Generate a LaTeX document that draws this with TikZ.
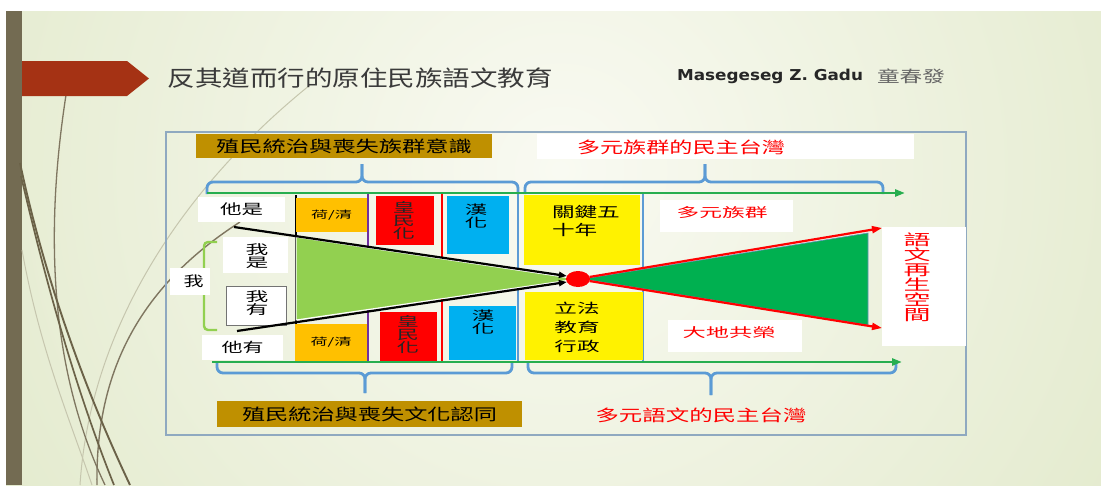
\documentclass[tikz,border=0pt]{standalone}
\usepackage{fontspec}
\usepackage{graphicx}
\usetikzlibrary{arrows.meta,shapes.geometric}
\newfontfamily\cjk{Noto Sans CJK TC}
\newfontfamily\djv{DejaVu Sans}
\newcommand\tw[2]{\resizebox{#1}{\height}{#2}}
\newcommand\hs[2][1.5]{\scalebox{#1}[1]{#2}}
\newcommand\vstk[1]{\vbox{\lineskiplimit=-100pt\relax\lineskip=0pt\relax\let\\\cr\halign{\hfil##\hfil\cr#1\crcr}}}
\newcommand\lstk[1]{\vbox{\lineskiplimit=-100pt\relax\lineskip=0pt\relax\let\\\cr\halign{##\hfil\cr#1\crcr}}}
\definecolor{bgl}{HTML}{F9FAF2}
\definecolor{bgd}{HTML}{D9E3BC}
\definecolor{barc}{HTML}{736B52}
\definecolor{bannerc}{HTML}{A53214}
\definecolor{goldc}{HTML}{BF9000}
\definecolor{framec}{HTML}{8FA9C0}
\definecolor{bracec}{HTML}{5B9BD5}
\definecolor{linegreen}{HTML}{27AE4F}
\definecolor{orangec}{HTML}{FFC000}
\definecolor{purplec}{HTML}{7030A0}
\definecolor{cyanc}{HTML}{00B0F0}
\definecolor{lgreen}{HTML}{92D050}
\definecolor{dgreen}{HTML}{00B050}
\definecolor{titlec}{HTML}{3A3A3A}
\definecolor{decoA}{HTML}{6B6248}
\definecolor{decoB}{HTML}{7F7660}
\definecolor{decoC}{HTML}{C6C6AE}
\tikzset{
  every node/.style={inner sep=0pt, outer sep=0pt},
  cj/.style={font={\cjk\fontsize{#1}{#1}\selectfont}},
  wbox/.style={fill=white},
  goldbox/.style={fill=goldc},
  brace/.style={draw=bracec, line width=2.8pt, rounded corners=6pt},
  gline/.style={draw=linegreen, line width=2.6pt, -{Triangle[length=10pt,width=7pt]}},
  blkarrow/.style={draw=black, line width=2.2pt, -{Triangle[length=8pt,width=6pt]}},
  redarrow/.style={draw=red, line width=2.2pt, -{Triangle[length=10pt,width=7pt]}},
}
\begin{document}
\begin{tikzpicture}[x=1pt,y=-1pt]
\useasboundingbox (0,0) rectangle (1101,485);
\fill[white] (0,0) rectangle (1101,485);
\begin{scope}
\clip (6,11) rectangle (1101,485);
\shade[inner color=bgl, outer color=bgd] (560,170) circle (980pt);
\end{scope}
% left bar
\fill[barc] (6,11) rectangle (22,485);
% decorative curves
\draw[decoC, line width=1pt] (310,85) .. controls (180,190) and (90,330) .. (80,485);
\draw[decoC, line width=1pt] (22,250) .. controls (40,350) and (70,420) .. (92,485);
\draw[decoB, line width=1.3pt] (66,95) .. controls (42,250) and (55,380) .. (105,485);
\draw[decoB, line width=1.4pt] (240,222) .. controls (150,280) and (95,360) .. (97,485);
\draw[decoA, line width=1.9pt] (20,163) .. controls (45,280) and (85,390) .. (130,485);
\draw[decoA, line width=1.7pt] (21,176) .. controls (50,300) and (80,400) .. (114,485);
% banner
\fill[bannerc] (22,61) -- (127,61) -- (149,78.5) -- (127,96) -- (22,96) -- cycle;
% title and author
\node[cj=22, text=titlec] (title) at (360,78) {\tw{385pt}{反其道而行的原住民族語文教育}};
\node[font={\djv\bfseries\fontsize{15}{15}\selectfont}, text=black!85] (author) at (770,76) {\tw{186pt}{Masegeseg Z. Gadu}};
\node[cj=16, text=black!60] (authorcn) at (911,76) {\tw{68pt}{童春發}};
% frame
\draw[framec, line width=2pt] (166,132) rectangle (966,435);
% top labels
\node[goldbox, minimum width=296pt, minimum height=24pt, cj=16] (goldtop) at (344,146) {\tw{256pt}{殖民統治與喪失族群意識}};
\node[wbox, minimum width=377pt, minimum height=25pt] (toprightbox) at (725.5,146.5) {};
\node[cj=16, text=red] (toprighttext) at (681,147) {\tw{208pt}{多元族群的民主台灣}};
% top braces
\draw[brace] (207,194) -- (207,182) -- (362,182) -- (362,164);
\draw[brace] (362,164) -- (362,182) -- (518,182) -- (518,194);
\draw[brace] (525,194) -- (525,182) -- (705,182) -- (705,164);
\draw[brace] (705,164) -- (705,182) -- (883,182) -- (883,194);
% bottom braces
\draw[brace] (217,362) -- (217,373) -- (365,373) -- (365,393);
\draw[brace] (365,393) -- (365,373) -- (512,373) -- (512,362);
\draw[brace] (528,362) -- (528,373) -- (711,373) -- (711,395);
\draw[brace] (711,395) -- (711,373) -- (896,373) -- (896,362);
% vertical dividers
\draw[black, line width=1.8pt] (296,195) -- (296,362);
\draw[purplec, line width=2.2pt] (368,193) -- (368,362);
\draw[red, line width=2.4pt] (442,193) -- (442,362);
\draw[bracec, line width=2.4pt] (518,193) -- (518,362);
\draw[bracec, line width=2.4pt] (643,193) -- (643,362);
% coloured boxes
\node[fill=orangec, minimum width=71pt, minimum height=34pt, cj=10] (heqing1) at (331.5,215) {\tw{41pt}{荷/清}};
\node[fill=orangec, minimum width=72pt, minimum height=38pt, cj=10] (heqing2) at (331,343) {\raisebox{3pt}{\tw{41pt}{荷/清}}};
\node[fill=red, minimum width=58pt, minimum height=49pt] (huang1) at (405,220.5) {};
\node[font={\cjk\fontsize{13}{13}\selectfont}, text=black!85] (huang1t) at (404,221) {\hs[1.7]{\vstk{皇\\民\\化}}};
\node[fill=red, minimum width=57pt, minimum height=50pt] (huang2) at (408.5,337) {};
\node[font={\cjk\fontsize{13}{13}\selectfont}, text=black!85] (huang2t) at (408,335) {\hs[1.7]{\vstk{皇\\民\\化}}};
\node[fill=cyanc, minimum width=62pt, minimum height=58pt] (han1) at (478,225) {};
\node[font={\cjk\fontsize{12.5}{12.5}\selectfont}] (han1t) at (476,216) {\hs[1.8]{\vstk{漢\\化}}};
\node[fill=cyanc, minimum width=67pt, minimum height=54pt] (han2) at (482.5,333) {};
\node[font={\cjk\fontsize{12.5}{12.5}\selectfont}] (han2t) at (483,322) {\hs[1.8]{\vstk{漢\\化}}};
\node[fill=yellow, minimum width=116pt, minimum height=70pt] (key50) at (582,230) {};
\node[anchor=west, font={\cjk\fontsize{14.5}{18}\selectfont}] (key50t) at (552,221) {\hs[1.56]{\lstk{關鍵五\\十年}}};
\node[fill=yellow, minimum width=118pt, minimum height=68pt] (legis) at (584,326) {};
\node[font={\cjk\fontsize{13.5}{19}\selectfont}] (legist) at (577,327) {\hs[1.67]{\vstk{立法\\教育\\行政}}};
% left labels
\draw[lgreen, line width=2.4pt, rounded corners=4pt] (217,242) -- (204,242) -- (204,330) -- (217,330);
\node[wbox, minimum width=87pt, minimum height=25pt, cj=14] (tashi) at (241.5,209.5) {\tw{43pt}{他是}};
\node[wbox, minimum width=65pt, minimum height=36pt] (woshi) at (255.5,255) {};
\node[font={\cjk\fontsize{13}{12.5}\selectfont}] (woshit) at (257,256) {\hs[1.75]{\vstk{我\\是}}};
\node[wbox, draw=black!55, line width=0.9pt, minimum width=60pt, minimum height=39pt] (woyou) at (256,305.5) {};
\node[font={\cjk\fontsize{13}{12.5}\selectfont}] (woyout) at (257,303) {\hs[1.75]{\vstk{我\\有}}};
\node[wbox, minimum width=40pt, minimum height=27pt, cj=14] (wo) at (190,281.5) {\hspace{7pt}\tw{20pt}{我}};
\node[wbox, minimum width=81pt, minimum height=25pt, cj=13.5] (tayou) at (242.5,347.5) {\tw{42pt}{他有}};
% triangles
\fill[lgreen, draw=white, line width=1pt] (296,237) -- (577,279) -- (296,320) -- cycle;
\fill[dgreen, draw=bracec!70!gray, line width=0.6pt] (583,279) -- (868,233) -- (868,325) -- cycle;
% right labels
\node[wbox, minimum width=133pt, minimum height=32pt] (multi) at (726.5,216) {};
\node[cj=13, text=red] (multit) at (722,213) {\tw{91pt}{多元族群}};
\node[wbox, minimum width=134pt, minimum height=32pt] (land) at (735,336) {};
\node[cj=13, text=red] (landt) at (729,333) {\tw{93pt}{大地共榮}};
\node[wbox, minimum width=84pt, minimum height=119pt] (space) at (924,286.5) {};
\node[font={\cjk\fontsize{15}{15}\selectfont}, text=red] (spacet) at (917,277) {\hs[1.8]{\vstk{語\\文\\再\\生\\空\\間}}};
% green timelines
\coordinate (gtl) at (207,193);
\coordinate (gtr) at (905,193);
\coordinate (gbl) at (212,362);
\coordinate (gbr) at (902,362);
\draw[gline] (gtl) -- (gtr);
\draw[gline] (gbl) -- (gbr);
% centre dot and arrows
\node[ellipse, fill=red, minimum width=24pt, minimum height=16pt] (dot) at (578,279) {};
\coordinate (ta) at (234,227);
\coordinate (tb) at (237,331);
\coordinate (ru) at (882,228);
\coordinate (rl) at (882,328);
\draw[redarrow] (dot.10) -- (ru);
\draw[redarrow] (dot.350) -- (rl);
\draw[blkarrow] (ta) -- (dot.165);
\draw[blkarrow] (tb) -- (dot.195);
% bottom labels
\node[goldbox, minimum width=305pt, minimum height=26pt, cj=16] (goldbot) at (369.5,414) {\tw{255pt}{殖民統治與喪失文化認同}};
\node[cj=16, text=red] (botred) at (701,415) {\tw{211pt}{多元語文的民主台灣}};
\end{tikzpicture}
\end{document}
